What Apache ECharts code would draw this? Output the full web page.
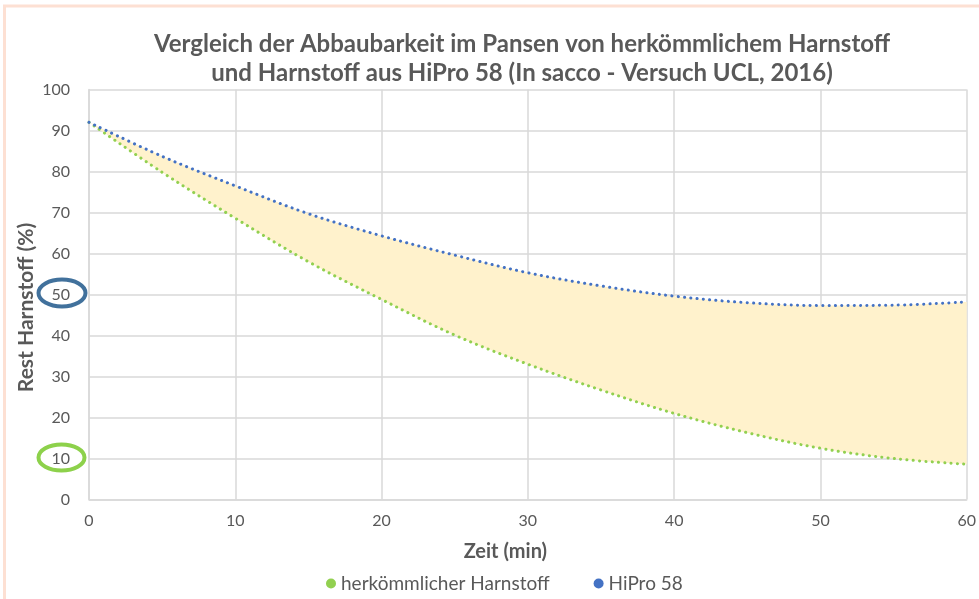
<!DOCTYPE html>
<html><head><meta charset="utf-8">
<script src="https://cdn.jsdelivr.net/npm/echarts@6/dist/echarts.min.js"></script>
<style>html,body{margin:0;padding:0;background:#fff}#c{width:979px;height:599px}</style>
</head><body><div id="c"></div>
<script>
const times = ['0', '5', '10', '15', '20', '25', '30', '35', '40', '45', '50', '55', '60'];
const greenValues = [92.0, 79.8, 68.6, 58.0, 48.8, 40.1, 33.0, 26.7, 21.0, 16.3, 12.5, 10.0, 8.6];
const blueValues  = [92.0, 83.7, 76.5, 69.7, 64.3, 59.6, 55.3, 52.1, 49.6, 48.0, 47.3, 47.4, 48.2];
const yTicks = [0, 100, 10];
const greenName = 'herkömmlicher Harnstoff';
const blueName = 'HiPro 58';

const diffValues = blueValues.map((v, i) => +(v - greenValues[i]).toFixed(2));

const font = 'Lato, "Open Sans", sans-serif';
const chart = echarts.init(document.getElementById('c'));
chart.setOption({
  animation: false,
  backgroundColor: '#fff',
  title: {
    text: 'Vergleich der Abbaubarkeit im Pansen von herkömmlichem Harnstoff\nund Harnstoff aus HiPro 58 (In sacco - Versuch UCL, 2016)',
    left: 517, top: 25, textAlign: 'center',
    textStyle: { fontFamily: font, fontSize: 24, fontWeight: 'bold', color: '#595959', lineHeight: 29 }
  },
  legend: {
    data: [greenName, blueName],
    top: 569, left: 321,
    icon: 'circle', itemWidth: 10, itemHeight: 10, itemGap: 44,
    textStyle: { fontFamily: font, fontSize: 19, color: '#595959' }
  },
  grid: { left: 89, right: 12, top: 89.5, bottom: 99.5 },
  xAxis: {
    type: 'category', data: times, boundaryGap: false,
    name: 'Zeit (min)', nameLocation: 'middle', nameGap: 42,
    nameTextStyle: { fontFamily: font, fontSize: 20, fontWeight: 'bold', color: '#595959', padding: [0, 45, 0, 0] },
    axisLine: { show: true, lineStyle: { color: '#d9d9d9', width: 1.5 } },
    axisTick: { show: false },
    axisLabel: { interval: 1, fontFamily: font, fontSize: 16, color: '#595959', margin: 13 },
    splitLine: { show: true, interval: 1, lineStyle: { color: '#d9d9d9', width: 1.5 } }
  },
  yAxis: {
    type: 'value', min: yTicks[0], max: yTicks[1], interval: yTicks[2],
    name: 'Rest Harnstoff (%)', nameLocation: 'middle', nameGap: 52, nameMoveOverlap: false,
    nameTextStyle: { fontFamily: font, fontSize: 21, fontWeight: 'bold', color: '#595959', padding: [0, 26, 0, 0] },
    axisLine: { show: true, lineStyle: { color: '#d9d9d9', width: 1.5 } },
    axisTick: { show: false },
    axisLabel: { fontFamily: font, fontSize: 16, color: '#595959', margin: 19 },
    splitLine: { show: true, lineStyle: { color: '#d9d9d9', width: 1.5 } }
  },
  series: [
    { name: 'base', type: 'line', stack: 'band', data: greenValues, smooth: 0.35, symbol: 'none',
      lineStyle: { opacity: 0 }, silent: true, z: 1 },
    { name: 'band', type: 'line', stack: 'band', data: diffValues, smooth: 0.35, symbol: 'none',
      lineStyle: { opacity: 0 }, areaStyle: { color: '#fff2cc', opacity: 1 }, silent: true, z: 1 },
    { name: greenName, type: 'line', data: greenValues, smooth: 0.35, symbol: 'none', z: 3,
      itemStyle: { color: '#92d050' },
      lineStyle: { color: '#92d050', width: 3, type: [0.1, 6.2], cap: 'round' } },
    { name: blueName, type: 'line', data: blueValues, smooth: 0.35, symbol: 'none', z: 3,
      itemStyle: { color: '#4472c4' },
      lineStyle: { color: '#4472c4', width: 3, type: [0.1, 6.2], cap: 'round' } }
  ],
  graphic: [
    { type: 'rect', shape: { x: 4.5, y: 6, width: 990, height: 600 }, style: { fill: null, stroke: '#fde0d3', lineWidth: 3 }, silent: true },
    { type: 'ellipse', shape: { cx: 62, cy: 293, rx: 23.5, ry: 13.5 }, style: { fill: null, stroke: '#41719c', lineWidth: 4 }, z: 10 },
    { type: 'ellipse', shape: { cx: 61.5, cy: 457.5, rx: 23, ry: 13 }, style: { fill: null, stroke: '#8dd14b', lineWidth: 4 }, z: 10 }
  ]
});
</script></body></html>
